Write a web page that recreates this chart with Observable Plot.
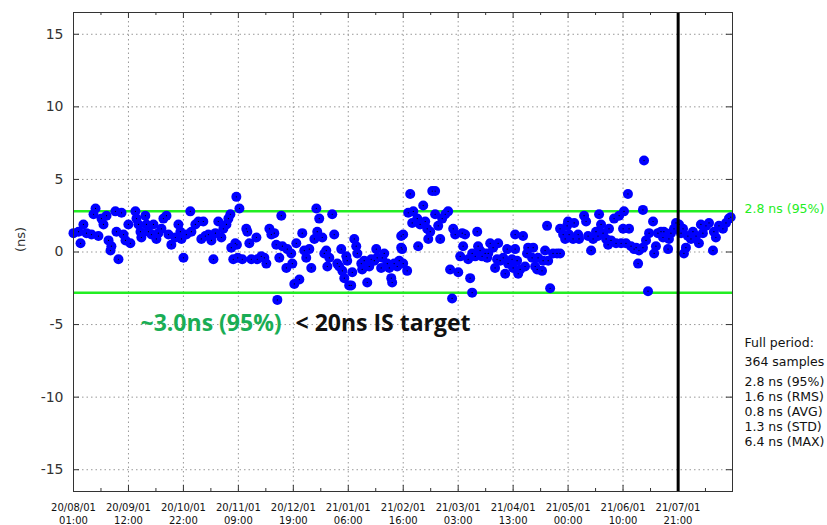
<!DOCTYPE html>
<html>
<head>
<meta charset="utf-8">
<script src="https://cdn.jsdelivr.net/npm/d3@7"></script>
<script src="https://cdn.jsdelivr.net/npm/@observablehq/plot@0.6"></script>
<style>
  html, body { margin: 0; padding: 0; background: #fff; }
  #chart { width: 827px; height: 525px; }
</style>
</head>
<body>
<div id="chart"></div>
<script>
// ---- data ----
const sampleDay = [
  0,2.8,3.9,5.5,7.2,10,11.1,12.2,13.8,15.5,16.6,18.3,19.4,20.5,21,23.2,23.8,24.9,26.6,27.7,28.8,30.4,31.5,34.3,34.9,36,37.1,37.6,39.8,40.4,41.5,43.2,44.3,45.9,47,48.7,49.8,51.5,52.6,54.2,56.4,58.1,59.2,59.8,60.9,62.5,64.7,65.3,67.5,69.2,70.8,71.9,73,74.7,76.4,77.5,78.6,80.2,81.9,83,84.7,85.8,86.9,87.4,88.5,89.6,90.2,
  91.9,90.5,91,93.5,95.7,96.3,97.4,98.5,101.3,101.8,104,105.7,106.8,108.5,109.6,111.2,112.3,112.9,114,115.1,115.7,117.9,118.4,120.6,121.2,122.3,123.4,125.1,126.7,127.8,128.9,130.6,131.7,133.4,134.5,135,136.1,137.8,138.9,140,140.6,141.7,143.3,144.4,146.1,147.2,148.3,148.9,150,151.1,151.6,152.7,153.8,154.4,155.5,156.6,157.2,159.4,159.9,161,162.7,163.8,164.9,166.6,167.7,168.2,170.4,171,172.1,173.8,174.9,176,176.5,177.6,179.3,180.4,181.5,181.5,
  186.5,182.6,182,182.6,184.8,185.4,188.2,187.6,190.4,190.9,192,193.7,194.8,195.9,196.5,197.6,198.7,200.3,200.3,202,203.1,204.2,205.9,207.5,208.6,209.7,210.3,211.4,213.1,214.2,215.3,215.8,216.9,218.6,219.7,220.8,220.8,222.5,223.6,224.1,225.2,226.3,228,229.1,229.7,230.8,232.4,233.5,234.6,235.2,236.3,238,239.1,240.2,240.7,242.9,243.5,244.6,244.6,245.7,246.3,247.4,249,250.1,251.2,251.8,254,254.6,255.7,256.8,257.3,259.5,260.1,261.2,262.3,262.9,264,265.6,267.8,269.5,269.5,271.2,272.3,273.4,
  273.9,274.5,276.7,277.3,279.5,280,282.8,283.9,285,286.7,287.8,289.4,290.5,291.1,292.2,293.3,295,296.1,296.6,297.7,299.4,300.5,302.2,303.3,304.4,304.9,307.1,306,307.7,308.8,310.5,311.6,312.7,313.2,315.4,316,315.4,318.2,317.1,318.8,321,321.6,322.6,323.7,325.4,326.5,327,329.3,329.8,330.9,332.6,333.7,335.4,336.5,337.6,338.1,339.2,340.3,342,343.1,344.8,346.4,347.5,348.6,350.3,352,354.2,354.7,355.8,357.5,359.7,361.4,363,364
];
const offsetNs = [
  1.3,1.4,0.6,1.9,1.3,1.2,2.6,3.0,1.1,2.3,1.9,2.5,0.8,0.1,0.4,2.8,1.4,-0.5,2.7,1.2,0.8,1.9,0.6,2.8,2.3,1.9,1.4,1.0,2.5,1.9,1.4,1.2,1.9,0.9,1.3,1.6,2.3,2.5,1.2,0.5,1.0,1.9,1.4,0.9,-0.4,1.2,2.8,1.4,1.9,2.1,0.9,2.1,1.1,1.2,0.8,-0.5,1.3,2.1,1.0,1.6,1.9,2.3,2.6,0.3,-0.5,0.6,3.8,
  3.0,0.5,-0.4,-0.5,1.6,1.4,0.6,-0.5,1.0,-0.5,-0.3,-0.4,-0.8,1.6,1.2,1.3,0.5,-3.3,-0.4,2.5,0.4,-1.1,0.2,-0.1,-0.8,-2.2,0.6,-1.9,1.3,0.1,-0.4,0.2,-1.1,0.9,3.0,1.4,2.3,1.0,-0.1,0.1,-1.0,-0.4,2.6,1.2,-0.8,-1.0,0.2,-1.3,-1.8,-0.3,-0.6,-2.3,-2.3,-1.4,0.9,0.4,-0.1,-0.8,-1.2,-0.6,-2.1,-1.0,-0.5,-0.6,0.2,-0.4,-1.1,-0.4,-0.1,-0.8,-1.1,-1.8,-2.1,-0.8,-1.0,-0.6,1.1,0.3,
  4.0,1.2,0.2,-0.8,-1.3,2.7,2.8,2.0,2.3,0.4,1.9,3.2,2.1,1.6,0.9,1.4,4.2,4.2,2.6,1.8,0.9,2.3,2.6,2.8,-1.2,-3.2,1.6,1.2,-1.4,-0.3,1.3,0.4,1.2,-0.5,-1.8,-2.8,-0.1,-0.3,1.4,0.4,0.1,-0.3,-0.1,-0.4,-0.1,0.6,0.3,-1.1,-0.5,0.6,-0.6,-0.4,-1.5,0.2,-0.8,-0.5,-1.1,1.2,0.2,-0.6,-1.5,-1.2,1.1,-1.0,-0.1,0.3,-0.4,0.3,-1.0,-1.2,-0.4,-1.3,-0.6,0.1,1.8,-0.6,-2.5,-0.1,-0.1,-0.1,1.6,1.2,0.9,1.8,
  2.1,1.2,0.9,2.0,1.2,0.9,2.5,2.1,1.1,0.1,0.9,1.4,1.1,2.6,1.9,1.3,0.9,0.5,1.6,0.8,2.3,0.6,2.5,0.6,1.6,2.8,4.0,0.6,1.6,0.4,0.2,0.3,-0.8,0.1,0.3,6.3,2.9,-2.7,0.8,1.3,2.1,-0.1,0.4,1.3,1.4,1.0,1.4,0.2,0.9,1.3,1.6,2.0,1.9,1.3,1.6,-0.1,0.3,1.1,0.9,1.4,1.1,0.6,1.9,1.3,1.8,2.0,0.1,1.4,1.0,1.8,1.6,2.0,2.3,2.4
];
const p95Ns = 2.8;
const boundLines = [2.8, -2.8];
const markerDay = 334.9;            // 21/07/01 21:00
const yTicks = [-15, -10, -5, 0, 5, 10, 15];
const xTickLabels = [
  "20/08/01\n01:00", "20/09/01\n12:00", "20/10/01\n22:00", "20/11/01\n09:00",
  "20/12/01\n19:00", "21/01/01\n06:00", "21/02/01\n16:00", "21/03/01\n03:00",
  "21/04/01\n13:00", "21/05/01\n00:00", "21/06/01\n10:00", "21/07/01\n21:00"
];
const statHeader = ["Full period:", "364 samples"];
const statLines = ["2.8 ns (95%)", "1.6 ns (RMS)", "0.8 ns (AVG)", "1.3 ns (STD)", "6.4 ns (MAX)"];
const annotGreen = "~3.0ns (95%)";
const annotBlack = "< 20ns IS target";

// ---- build ----
const tickStep = 365.25 / 12;
const xTicks = xTickLabels.map((label, i) => ({day: i * tickStep, label}));
const minorTicks = xTickLabels.map((_, i) => (i + 0.5) * tickStep);
const points = sampleDay.map((d, i) => ({day: d, ns: offsetNs[i]}));

const W = 827, H = 525, ML = 73, MR = 95, MT = 12, MB = 34;
const PW = W - ML - MR, PH = H - MT - MB;
const ink = "#333";

const headerDy = [326, 345];
const statDy = [365, 380, 395, 410, 425];

const chart = Plot.plot({
  width: W, height: H,
  marginLeft: ML, marginRight: MR, marginTop: MT, marginBottom: MB,
  x: {domain: [0, 365], axis: null},
  y: {domain: [-16.5, 16.5], axis: null},
  style: {fontFamily: "'DejaVu Sans', sans-serif", background: "#fff", overflow: "visible"},
  marks: [
    Plot.ruleY(yTicks, {y: d => d, stroke: "#999", strokeDasharray: "1.5,3"}),
    Plot.ruleX(xTicks, {x: "day", stroke: "#999", strokeDasharray: "1.5,3"}),
    Plot.ruleY(boundLines, {y: d => d, stroke: "#22ee22", strokeWidth: 2.5}),
    Plot.tickY(yTicks, {y: d => d, insetRight: PW - 6, stroke: ink}),
    Plot.tickY(yTicks, {y: d => d, insetLeft: PW - 6, stroke: ink}),
    Plot.tickX(xTicks, {x: "day", insetTop: PH - 6, stroke: ink}),
    Plot.tickX(xTicks, {x: "day", insetBottom: PH - 6, stroke: ink}),
    Plot.tickX(minorTicks, {x: d => d, insetTop: PH - 3, stroke: ink}),
    Plot.tickX(minorTicks, {x: d => d, insetBottom: PH - 3, stroke: ink}),
    Plot.dot(points, {x: "day", y: "ns", r: 5, fill: "#0000ff", stroke: "none"}),
    Plot.dot(points, {x: "day", y: "ns", r: 0.6, fill: "#000", stroke: "none"}),
    Plot.ruleX([markerDay], {x: d => d, stroke: "#000", strokeWidth: 3}),
    Plot.frame({stroke: ink}),
    // y tick labels
    Plot.text(yTicks, {y: d => d, text: d => String(d), frameAnchor: "left", textAnchor: "end", dx: -10, fontSize: 14, fill: ink}),
    // x tick labels
    Plot.text(xTicks, {x: "day", text: "label", frameAnchor: "bottom", lineAnchor: "top", dy: 10, fontSize: 10, lineHeight: 1.3, fill: "#111"}),
    // y label
    Plot.text(["(ns)"], {frameAnchor: "left", dx: -53, rotate: -90, fontSize: 13, fill: ink}),
    // right labels
    Plot.text([p95Ns], {x: 365, y: d => d, text: d => `${d} ns (95%)`, textAnchor: "start", dx: 12, dy: -2, fontSize: 12.5, fill: "#22ee22"}),
    ...statHeader.map((s, i) => Plot.text([s], {frameAnchor: "top-right", textAnchor: "start", dx: 12, dy: headerDy[i], fontSize: 12.5, fill: "#111"})),
    ...statLines.map((s, i) => Plot.text([s], {frameAnchor: "top-right", textAnchor: "start", dx: 12, dy: statDy[i], fontSize: 12.5, fill: "#111"})),
    // annotation
    Plot.text([annotGreen], {frameAnchor: "top-left", textAnchor: "start", dx: 67, dy: 302, fontSize: 23, fontWeight: "bold", fontFamily: "'Open Sans'", fill: "#1aad55"}),
    Plot.text([annotBlack], {frameAnchor: "top-left", textAnchor: "start", dx: 222, dy: 302, fontSize: 23, fontWeight: "bold", fontFamily: "'Open Sans'", fill: "#111"})
  ]
});
document.getElementById("chart").appendChild(chart);
</script>
</body>
</html>
